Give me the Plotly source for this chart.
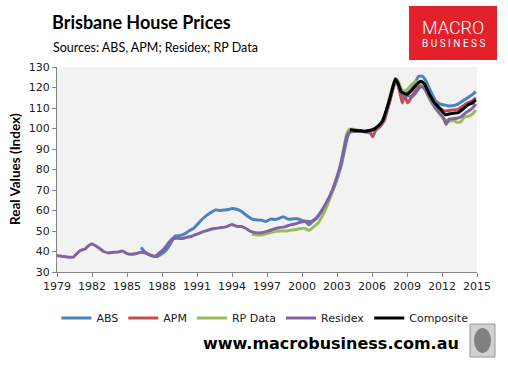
import plotly.graph_objects as go

# ---------------- data ----------------
residex_years = [1979.0, 1979.5, 1980.0, 1980.4, 1980.7, 1981.0, 1981.4, 1981.7, 1982.0, 1982.3, 1982.7,
                 1983.0, 1983.4, 1983.8, 1984.2, 1984.6, 1985.0, 1985.4, 1985.8, 1986.2, 1986.6, 1987.0,
                 1987.4, 1987.8, 1988.2, 1988.6, 1988.9, 1989.3, 1989.7, 1990.1, 1990.5, 1991.0, 1991.5,
                 1992.0, 1992.5, 1993.0, 1993.5, 1994.0, 1994.4, 1994.8, 1995.2, 1995.6, 1996.0, 1996.5,
                 1997.0, 1997.5, 1998.0, 1998.5, 1999.0, 1999.5, 2000.0, 2000.3, 2000.6, 2001.0, 2001.4,
                 2001.8, 2002.2, 2002.6, 2003.0, 2003.3, 2003.6, 2003.85, 2004.1, 2004.6, 2005.0, 2005.5,
                 2006.0, 2006.4, 2006.8, 2007.2, 2007.5, 2007.8, 2008.0, 2008.2, 2008.5, 2008.8, 2009.1,
                 2009.4, 2009.7, 2010.0, 2010.3, 2010.6, 2011.0, 2011.4, 2011.8, 2012.1, 2012.35, 2012.6,
                 2012.9, 2013.3, 2013.7, 2014.0, 2014.4, 2014.7, 2014.9]
residex_vals = [38.0, 37.6, 37.2, 37.3, 39.0, 40.5, 41.2, 42.8, 43.6, 42.8, 41.2,
                40.0, 39.3, 39.6, 39.7, 40.2, 39.0, 38.6, 39.0, 39.6, 39.2, 38.3,
                37.6, 39.4, 41.5, 44.5, 46.3, 46.5, 46.3, 46.9, 47.3, 48.5, 49.6,
                50.5, 51.2, 51.6, 52.0, 53.2, 52.3, 52.2, 51.2, 49.8, 49.2, 49.1,
                49.8, 50.8, 51.6, 52.0, 53.0, 53.6, 54.5, 54.6, 53.0, 55.2, 57.5,
                61.0, 65.0, 70.0, 76.5, 82.0, 90.0, 96.5, 98.3, 98.5, 98.6, 98.4,
                99.0, 100.5, 102.5, 107.0, 113.0, 119.5, 123.0, 122.0, 117.5, 115.5, 116.0,
                115.5, 117.0, 119.5, 120.5, 118.5, 114.5, 110.5, 107.5, 105.5, 102.0, 104.5,
                104.8, 105.0, 106.0, 107.5, 109.0, 110.5, 112.0]

abs_years = [1986.2, 1986.5, 1986.8, 1987.2, 1987.6, 1988.0, 1988.4, 1988.8, 1989.1, 1989.5, 1989.9,
             1990.3, 1990.7, 1991.0, 1991.4, 1991.8, 1992.2, 1992.6, 1993.0, 1993.4, 1993.7, 1994.0,
             1994.4, 1994.8, 1995.2, 1995.6, 1996.0, 1996.5, 1996.9, 1997.3, 1997.7, 1998.1, 1998.4,
             1998.8, 1999.2, 1999.6, 2000.0, 2000.4, 2000.7, 2001.0, 2001.3, 2001.6, 2002.0, 2002.4,
             2002.8, 2003.1, 2003.4, 2003.7, 2003.95, 2004.2, 2004.6, 2005.0, 2005.5, 2006.0, 2006.4,
             2006.8, 2007.2, 2007.5, 2007.8, 2008.0, 2008.2, 2008.5, 2008.8, 2009.1, 2009.4, 2009.7,
             2010.0, 2010.3, 2010.6, 2011.0, 2011.4, 2011.8, 2012.2, 2012.6, 2013.0, 2013.4, 2013.8,
             2014.2, 2014.6, 2014.9]
abs_vals = [42.0, 40.0, 38.8, 37.8, 37.6, 39.0, 41.0, 44.5, 47.5, 47.8, 48.5,
            50.0, 51.2, 53.0, 55.5, 57.5, 59.0, 60.3, 60.0, 60.3, 60.5, 61.0,
            60.6, 59.6, 57.8, 56.2, 55.5, 55.3, 54.6, 55.8, 55.6, 56.3, 57.0,
            55.8, 55.9, 56.0, 55.2, 54.8, 54.6, 55.2, 56.5, 59.0, 62.5, 67.0,
            72.0, 77.0, 83.0, 91.0, 96.8, 98.6, 98.8, 98.6, 98.5, 99.2, 100.5,
            103.0, 108.0, 114.0, 120.5, 123.5, 123.0, 119.0, 118.0, 117.5, 119.5, 122.5,
            125.5, 125.5, 123.5, 118.5, 114.0, 112.0, 111.5, 111.0, 111.2, 112.0, 113.5,
            115.0, 116.5, 118.0]

apm_years = [2004.1, 2004.6, 2005.0, 2005.5, 2005.85, 2006.05, 2006.3, 2006.7, 2007.1, 2007.5, 2007.8,
             2008.0, 2008.2, 2008.45, 2008.6, 2008.8, 2009.05, 2009.3, 2009.6, 2010.0, 2010.3, 2010.6,
             2011.0, 2011.4, 2011.8, 2012.2, 2012.6, 2013.0, 2013.4, 2013.8, 2014.2, 2014.6, 2014.9]
apm_vals = [99.5, 99.0, 98.8, 98.3, 97.8, 96.0, 99.0, 101.0, 104.5, 113.0, 119.5,
            123.0, 121.5, 116.0, 112.5, 116.0, 112.5, 114.5, 117.5, 120.5, 122.0, 120.5,
            115.5, 112.0, 110.0, 108.5, 108.8, 109.0, 109.5, 111.0, 112.5, 113.5, 115.0]

rp_years = [1995.7, 1996.2, 1996.7, 1997.2, 1997.7, 1998.2, 1998.7, 1999.2, 1999.7, 2000.2, 2000.6,
            2001.0, 2001.4, 2001.8, 2002.2, 2002.6, 2003.0, 2003.3, 2003.6, 2003.85, 2004.1, 2004.6,
            2005.0, 2005.5, 2006.0, 2006.4, 2006.8, 2007.2, 2007.5, 2007.8, 2008.0, 2008.2, 2008.5,
            2008.8, 2009.1, 2009.4, 2009.7, 2010.0, 2010.3, 2010.6, 2011.0, 2011.4, 2011.8, 2012.2,
            2012.6, 2013.0, 2013.3, 2013.6, 2013.9, 2014.3, 2014.6, 2014.9]
rp_vals = [48.4, 48.0, 48.3, 49.0, 49.8, 50.0, 50.0, 50.5, 51.0, 51.4, 50.3,
           52.0, 54.0, 58.0, 63.0, 69.0, 76.0, 82.5, 91.0, 97.5, 99.8, 99.5,
           99.0, 98.8, 99.5, 100.5, 103.0, 108.0, 115.0, 121.0, 124.5, 123.5, 119.5,
           118.0, 119.5, 121.5, 122.8, 122.5, 121.0, 118.5, 113.5, 110.0, 107.0, 104.5,
           103.5, 104.0, 103.0, 103.2, 105.5, 106.0, 107.0, 109.0]

comp_years = [2004.1, 2004.6, 2005.0, 2005.4, 2005.8, 2006.1, 2006.5, 2006.9, 2007.2, 2007.5, 2007.8,
              2008.0, 2008.2, 2008.5, 2008.8, 2009.0, 2009.3, 2009.6, 2010.0, 2010.25, 2010.5, 2010.9,
              2011.3, 2011.7, 2012.0, 2012.3, 2012.7, 2013.1, 2013.4, 2013.8, 2014.2, 2014.6, 2014.9]
comp_vals = [99.4, 99.0, 98.9, 98.6, 99.0, 99.4, 101.0, 103.5, 108.5, 114.0, 120.5,
             124.0, 122.5, 118.0, 117.0, 116.7, 118.0, 120.0, 122.5, 123.0, 121.8, 117.0,
             113.0, 110.5, 108.5, 106.7, 107.2, 107.5, 107.8, 109.5, 111.5, 112.5, 114.0]

x_ticks = list(range(1979, 2016, 3))
y_ticks = list(range(30, 131, 10))

# ---------------- layout helpers ----------------
W, H = 508, 368
L, R, T, B = 57, 31, 67, 96
PW, PH = W - L - R, H - T - B


def px(x):
    return (x - L) / PW


def py(y):
    return 1 - (y - T) / PH


fig = go.Figure()
series = [
    ("ABS", abs_years, abs_vals, "#4F81BD"),
    ("APM", apm_years, apm_vals, "#C0504D"),
    ("RP Data", rp_years, rp_vals, "#9BBB59"),
    ("Residex", residex_years, residex_vals, "#8064A2"),
    ("Composite", comp_years, comp_vals, "#000000"),
]
for name, xs, ys, col in series:
    fig.add_trace(go.Scatter(x=xs, y=ys, name=name, mode="lines",
                             line=dict(color=col, width=3, shape="spline", smoothing=0.4)))

axis_common = dict(showline=True, linecolor="#868686", linewidth=1, ticks="outside",
                   ticklen=4, tickcolor="#868686", showgrid=False, zeroline=False,
                   tickfont=dict(family="DejaVu Sans", size=11, color="#222222"))
fig.update_xaxes(range=[1979, 2015], tickvals=x_ticks, **axis_common)
fig.update_yaxes(range=[30, 130], tickvals=y_ticks, **axis_common)

annotations = [
    dict(text="<b>Brisbane House Prices</b>", x=px(50), y=py(22), xanchor="left", yanchor="middle",
         font=dict(family="Lato", size=18, color="#000000")),
    dict(text="Sources: ABS, APM; Residex; RP Data", x=px(51), y=py(48), xanchor="left", yanchor="middle",
         font=dict(family="Lato", size=12.5, color="#000000")),
    dict(text="<b>Real Values (Index)</b>", x=px(15), y=py(169), xanchor="center", yanchor="middle",
         textangle=-90, font=dict(family="Lato", size=13.5, color="#000000")),
    dict(text="<b>www.macrobusiness.com.au</b>", x=px(331), y=py(343), xanchor="center", yanchor="middle",
         font=dict(family="DejaVu Sans", size=16, color="#000000")),
    dict(text="MACRO", x=px(453), y=py(27), xanchor="center", yanchor="middle",
         font=dict(family="Roboto", size=18, color="#ffffff", weight=300)),
    dict(text="B U S I N E S S", x=px(453), y=py(44), xanchor="center", yanchor="middle",
         font=dict(family="Roboto", size=10, color="#ffffff", weight=400)),
]
for a in annotations:
    a.update(xref="paper", yref="paper", showarrow=False)

shapes = [
    dict(type="rect", x0=px(409), x1=px(497), y0=py(60), y1=py(6), xref="paper", yref="paper",
         fillcolor="#E4202A", line=dict(width=0), layer="below"),
    dict(type="rect", x0=px(470), x1=px(495), y0=py(357), y1=py(324), xref="paper", yref="paper",
         fillcolor="#D0D0D0", line=dict(width=1, color="#999999")),
    dict(type="circle", x0=px(474), x1=px(491), y0=py(353), y1=py(328), xref="paper", yref="paper",
         fillcolor="#808080", line=dict(width=0)),
]

fig.update_layout(
    width=W, height=H, margin=dict(l=L, r=R, t=T, b=B),
    paper_bgcolor="#ffffff", plot_bgcolor="#F2F2F2",
    showlegend=True,
    legend=dict(orientation="h", x=0.495, xanchor="center", y=py(318), yanchor="middle",
                font=dict(family="DejaVu Sans", size=11, color="#222222"),
                bgcolor="rgba(0,0,0,0)", itemwidth=30, tracegroupgap=0),
    annotations=annotations, shapes=shapes,
)

fig.write_html("out.html", config={"displayModeBar": False},
               post_script="document.body.style.margin='0';document.body.style.overflow='hidden';")
